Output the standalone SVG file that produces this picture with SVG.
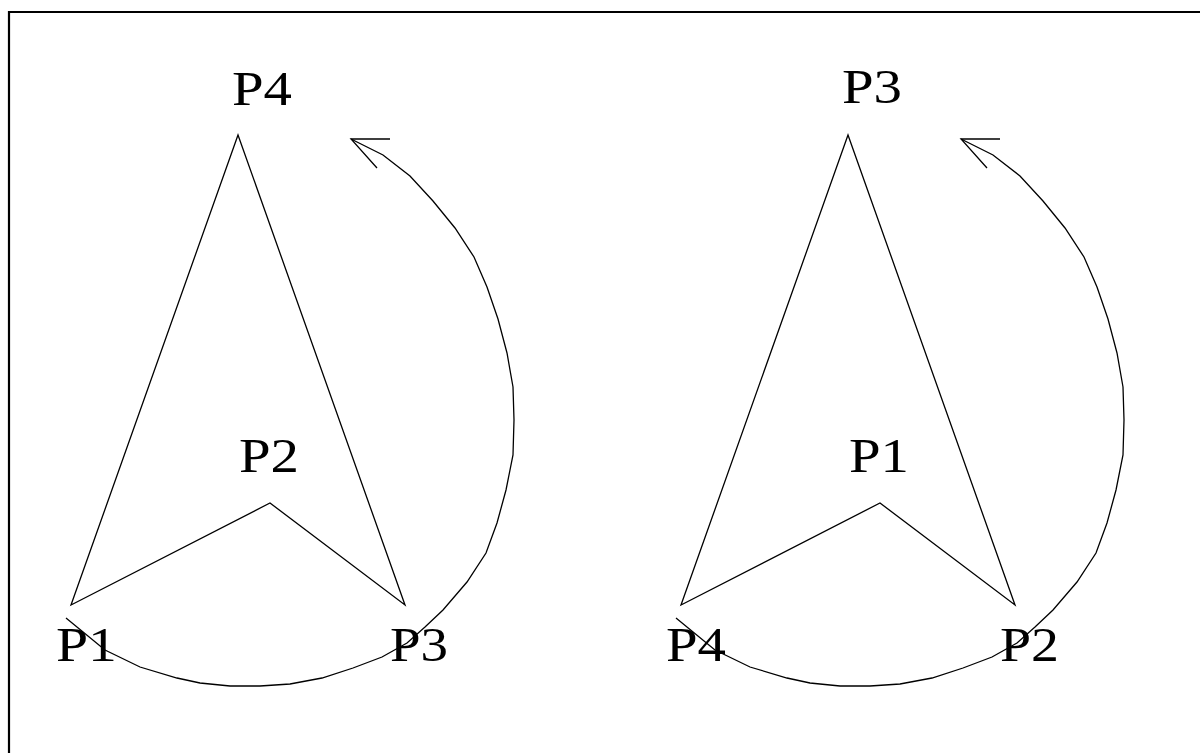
<svg xmlns="http://www.w3.org/2000/svg" width="1200" height="753" viewBox="0 0 1200 753">
<style>
.ln{fill:none;stroke:#000;stroke-width:1.3;stroke-linejoin:miter}
.lbl{font-family:"Liberation Serif","Times New Roman",serif;font-size:49px;fill:#000}
</style>
<defs>
<g id="fig">
<polygon class="ln" points="71,605 238,135 405,605 270,503"/>
</g>
<g id="arc">
<polyline class="ln" points="351,139 383,155 410,176 433,201 455,228 474,257 487,287 498,319 507,353 513,387 514,420 513,455 506,490 497,523 486,553 467,582 443,610 425,627 407,643 382,657 353,668 322,678 290,684 260,686 230,686 200,683 177,678 140,667 105,650 66,618"/>
<polyline class="ln" points="390,139 351,139 377,168"/>
</g>
</defs>
<rect width="1200" height="753" fill="#fff"/>
<path d="M9,753 V12 H1200" fill="none" stroke="#000" stroke-width="2.2"/>
<g id="left-shape"><use href="#fig"/></g>
<g id="right-shape" transform="translate(610,0)"><use href="#fig"/></g>
<g id="connectors">
<use href="#arc"/>
<use href="#arc" transform="translate(610,0)"/>
</g>
<g id="left-labels">
<text class="lbl" x="232" y="105" textLength="60" lengthAdjust="spacingAndGlyphs">P4</text>
<text class="lbl" x="239" y="472" textLength="60" lengthAdjust="spacingAndGlyphs">P2</text>
<text class="lbl" x="56" y="661" textLength="61" lengthAdjust="spacingAndGlyphs">P1</text>
<text class="lbl" x="390" y="661" textLength="58" lengthAdjust="spacingAndGlyphs">P3</text>
</g>
<g id="right-labels">
<text class="lbl" x="842" y="103" textLength="60" lengthAdjust="spacingAndGlyphs">P3</text>
<text class="lbl" x="849" y="472" textLength="60" lengthAdjust="spacingAndGlyphs">P1</text>
<text class="lbl" x="666" y="661" textLength="60" lengthAdjust="spacingAndGlyphs">P4</text>
<text class="lbl" x="1000" y="661" textLength="59" lengthAdjust="spacingAndGlyphs">P2</text>
</g>
</svg>
